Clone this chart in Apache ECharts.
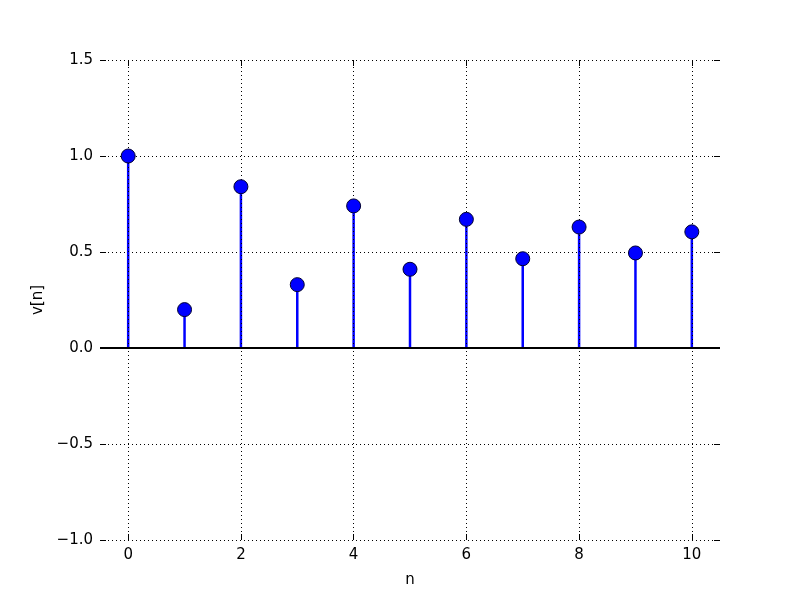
<!DOCTYPE html>
<html><head><meta charset="utf-8">
<script src="https://cdn.jsdelivr.net/npm/echarts@6/dist/echarts.min.js"></script>
<style>html,body{margin:0;padding:0;background:#fff}#c{width:800px;height:600px}</style>
</head><body><div id="c"></div>
<script>
const nValues = [0,1,2,3,4,5,6,7,8,9,10];
const vValues = [1.0,0.2,0.84,0.33,0.74,0.41,0.67,0.465,0.63,0.495,0.605];
const xTicks = [0,2,4,6,8,10];
const yTicks = [-1.0,-0.5,0.0,0.5,1.0,1.5];

const FONT = 'DejaVu Sans';
const pts = nValues.map((n,i)=>[n,vValues[i]]);
const fmtY = v => (v<0?'\u2212':'') + Math.abs(v).toFixed(1);
const dotted = {color:'#000', width:1, type:[1,3]};

const chart = echarts.init(document.getElementById('c'), null, {renderer:'canvas'});
chart.setOption({
  animation:false,
  backgroundColor:'#fff',
  grid:{left:100, right:80, top:60, bottom:60},
  xAxis:[{
    type:'value', min:-0.5, max:10.5, position:'bottom',
    name:'n', nameLocation:'middle', nameGap:33,
    nameTextStyle:{fontFamily:FONT, fontSize:15, color:'#000'},
    axisLine:{show:false, onZero:false},
    axisTick:{show:true, inside:true, length:6, customValues:xTicks, lineStyle:{color:'#000'}},
    axisLabel:{show:true, customValues:xTicks, margin:8, fontFamily:FONT, fontSize:15, color:'#000'},
    splitLine:{show:false}
  },{
    type:'value', min:-0.5, max:10.5, position:'top',
    axisLine:{show:false, onZero:false},
    axisTick:{show:true, inside:true, length:6, customValues:xTicks, lineStyle:{color:'#000'}},
    axisLabel:{show:false}, splitLine:{show:false}
  }],
  yAxis:[{
    type:'value', min:-1, max:1.5, interval:0.5, position:'left',
    name:'v[n]', nameLocation:'middle', nameGap:54,
    nameTextStyle:{fontFamily:FONT, fontSize:15, color:'#000'},
    axisLine:{show:false, onZero:false},
    axisTick:{show:true, inside:true, length:6, lineStyle:{color:'#000'}},
    axisLabel:{margin:7, fontFamily:FONT, fontSize:15, color:'#000', formatter:fmtY},
    splitLine:{show:true, lineStyle:dotted}
  },{
    type:'value', min:-1, max:1.5, interval:0.5, position:'right',
    axisLine:{show:false, onZero:false},
    axisTick:{show:true, inside:true, length:6, lineStyle:{color:'#000'}},
    axisLabel:{show:false}, splitLine:{show:false}
  }],
  series:[
    {
      type:'line', xAxisIndex:0, yAxisIndex:0, data:[], silent:true,
      markLine:{
        silent:true, symbol:'none', label:{show:false},
        lineStyle:dotted,
        data: xTicks.map(x=>({xAxis:x}))
      }
    },
    {
      type:'bar', xAxisIndex:0, yAxisIndex:0, data:pts, barWidth:2.5,
      itemStyle:{color:'#0000ff'}, silent:true, z:3
    },
    {
      type:'line', xAxisIndex:0, yAxisIndex:0, data:[], silent:true, z:4,
      markLine:{
        silent:true, symbol:'none', label:{show:false},
        lineStyle:{color:'#000', width:2, type:'solid'},
        data:[{yAxis:0}]
      }
    },
    {
      type:'scatter', xAxisIndex:0, yAxisIndex:0, data:pts, symbol:'circle', symbolSize:14,
      itemStyle:{color:'#0000ff', borderColor:'#000033', borderWidth:1, opacity:1}, silent:true, z:5
    }
  ]
});
</script></body></html>
